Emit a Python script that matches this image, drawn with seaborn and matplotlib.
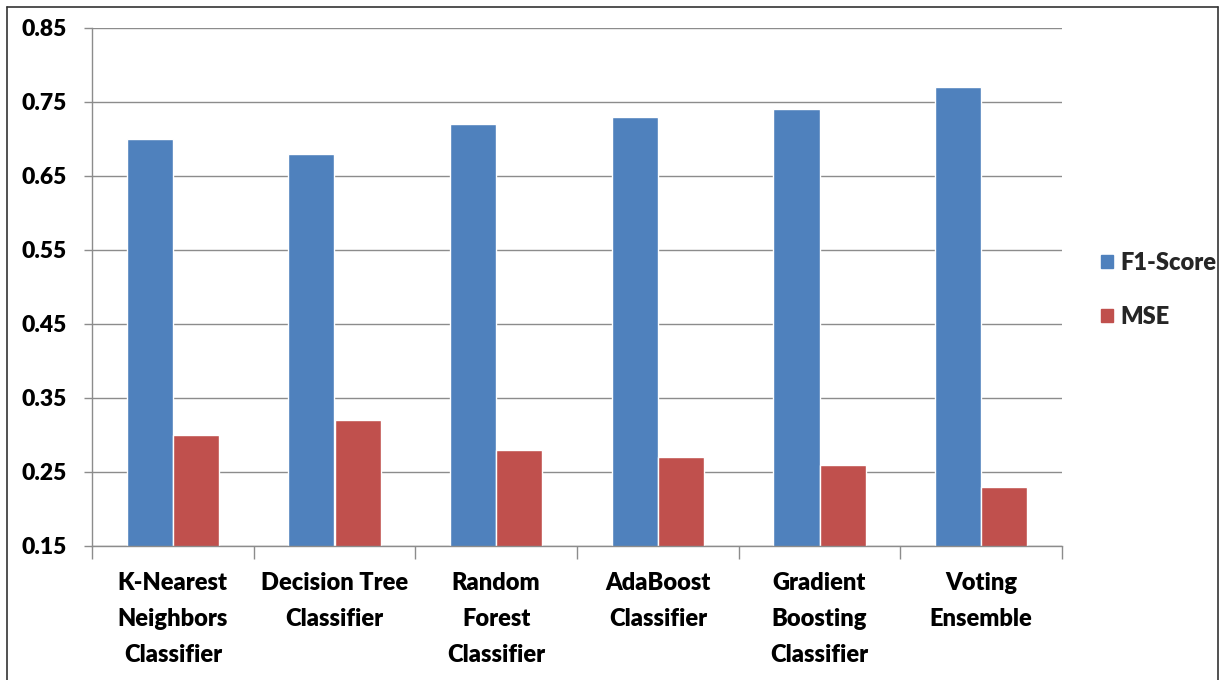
import matplotlib
matplotlib.use("Agg")
import matplotlib.pyplot as plt
import matplotlib.lines as mlines
import matplotlib.patches as mpatches
import seaborn as sns
import pandas as pd
import numpy as np

categories = ["K-Nearest\nNeighbors\nClassifier", "Decision Tree\nClassifier",
              "Random\nForest\nClassifier", "AdaBoost\nClassifier",
              "Gradient\nBoosting\nClassifier", "Voting\nEnsemble"]
f1_scores = [0.70, 0.68, 0.72, 0.73, 0.74, 0.77]
mse_values = [0.30, 0.32, 0.28, 0.27, 0.26, 0.23]
series_names = ["F1-Score", "MSE"]
y_ticks = [0.15, 0.25, 0.35, 0.45, 0.55, 0.65, 0.75, 0.85]

sns.set_theme(style="white")
plt.rcParams['font.family'] = ['Lato', 'DejaVu Sans']

W = 'heavy'

df = pd.DataFrame({
    "Model": categories * 2,
    "Series": [series_names[0]] * len(categories) + [series_names[1]] * len(categories),
    "Value": f1_scores + mse_values,
})

colors = {"F1-Score": "#4F81BD", "MSE": "#C0504D"}

fig = plt.figure(figsize=(12.25, 6.8), dpi=100)
ax = fig.add_axes([92/1225, (680-546)/680, (1062-92)/1225, (546-28)/680])

sns.barplot(data=df, x="Model", y="Value", hue="Series", palette=colors,
            width=0.57, gap=0, ax=ax, legend=False, saturation=1)

ax.set_ylim(0.15, 0.85)
ax.set_xlim(-0.5, len(categories) - 0.5)
ax.set_yticks(y_ticks)
ax.set_yticklabels([f"{v:.2f}" for v in y_ticks], fontsize=16.5, fontweight=W, color='black')
ax.yaxis.grid(True, color='#8c8c8c', linewidth=1.0)
ax.set_axisbelow(True)
ax.tick_params(axis='y', length=6, width=1.0, color='#8c8c8c', pad=12, direction='out', left=True)

ax.set_xticks(range(len(categories)))
ax.set_xticklabels(categories, fontsize=17, fontweight=W, color='black', linespacing=1.77)
ax.tick_params(axis='x', which='major', length=0, pad=19)
ax.set_xticks(np.arange(-0.5, len(categories), 1.0), minor=True)
ax.tick_params(axis='x', which='minor', length=9, width=1.0, color='#8c8c8c', direction='out', bottom=True)

ax.set_xlabel("")
ax.set_ylabel("")
for s in ["top", "right"]:
    ax.spines[s].set_visible(False)
for s in ["left", "bottom"]:
    ax.spines[s].set_color('#8c8c8c')
    ax.spines[s].set_linewidth(1.0)

handles = [mpatches.Patch(color=colors[n], label=n) for n in series_names]
leg = fig.legend(handles=handles, loc='center left', bbox_to_anchor=(1101/1225, 1 - 290/680),
                 frameon=False, fontsize=17, handlelength=0.5, handleheight=0.5,
                 handletextpad=0.32, labelspacing=1.35, borderaxespad=0, borderpad=0)
for t in leg.get_texts():
    t.set_fontweight(W)

# figure border
fig.add_artist(mlines.Line2D([7/1225, 7/1225], [0, 1 - 7/680], color='#333333', lw=1.2, transform=fig.transFigure))
fig.add_artist(mlines.Line2D([7/1225, 1218/1225], [1 - 7/680, 1 - 7/680], color='#333333', lw=1.2, transform=fig.transFigure))
fig.add_artist(mlines.Line2D([1218/1225, 1218/1225], [0, 1 - 7/680], color='#333333', lw=1.2, transform=fig.transFigure))

fig.savefig("out.png", dpi=100)
